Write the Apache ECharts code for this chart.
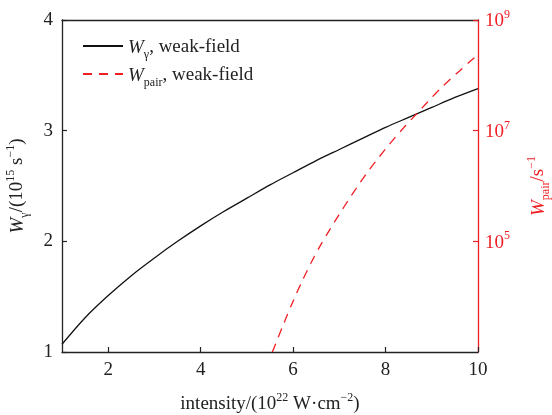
<!DOCTYPE html>
<html>
<head>
<meta charset="utf-8">
<script src="https://cdn.jsdelivr.net/npm/echarts@6/dist/echarts.min.js"></script>
<style>html,body{margin:0;padding:0;background:#fff}#c{width:552px;height:415px}</style>
</head>
<body>
<div id="c"></div>
<script>
// intensity (1e22 W/cm^2) and W_gamma (1e15 s^-1)
var gammaX = [1, 1.5, 2, 2.5, 3, 3.5, 4, 4.5, 5, 5.5, 6, 6.5, 7, 7.5, 8, 8.5, 9, 9.5, 10];
var gammaY = [1.07, 1.31, 1.51, 1.69, 1.85, 2.00, 2.14, 2.27, 2.39, 2.51, 2.62, 2.73, 2.83, 2.93, 3.03, 3.12, 3.21, 3.30, 3.38];
// W_pair (s^-1)
var pairX = [5.55, 5.6, 5.8, 6.0, 6.2, 6.4, 6.6, 6.8, 7.0, 7.2, 7.4, 7.6, 7.8, 8.0, 8.2, 8.4, 8.6, 8.8, 9.0, 9.2, 9.4, 9.6, 9.8, 10];
var pairY = [1.0e3, 1.26e3, 3.31e3, 8.3e3, 1.95e4, 4.27e4, 8.7e4, 1.66e5, 3.09e5, 5.62e5, 1.0e6, 1.74e6, 2.88e6, 4.68e6, 7.41e6, 1.15e7, 1.74e7, 2.63e7, 3.98e7, 5.89e7, 8.51e7, 1.2e8, 1.7e8, 2.34e8];
var xTicks = [2, 4, 6, 8, 10];

var RED = '#f01e23';
var INK = '#222';
var FONT = 'Liberation Serif';

function zip(a, b) { return a.map(function (v, i) { return [v, b[i]]; }); }
function richSet(c) {
  return {
    i: { fontFamily: FONT, fontStyle: 'italic', fontSize: 19, color: c, verticalAlign: 'bottom', lineHeight: 22 },
    s: { fontFamily: FONT, fontSize: 12, color: c, verticalAlign: 'bottom', lineHeight: 22, padding: [0, 0, -4, 0] },
    t: { fontFamily: FONT, fontSize: 19, color: c, verticalAlign: 'bottom', lineHeight: 22 },
    u: { fontFamily: FONT, fontSize: 12, color: c, verticalAlign: 'top', lineHeight: 22, padding: [0, 0, 8, 0] }
  };
}

var chart = echarts.init(document.getElementById('c'));
chart.setOption({
  animation: false,
  textStyle: { fontFamily: FONT },
  grid: { left: 62, right: 74, top: 20, bottom: 63, containLabel: false, outerBoundsMode: 'none' },
  legend: {
    orient: 'vertical', left: 77, top: 33, itemWidth: 40, itemHeight: 12, itemGap: 5,
    data: ['g', 'p'],
    itemStyle: { opacity: 0 },
    formatter: function (n) {
      return n === 'g' ? '{i|W}{s|γ}{t|, weak-field}' : '{i|W}{s|pair}{t|, weak-field}';
    },
    textStyle: { fontFamily: FONT, color: INK, rich: richSet(INK) }
  },
  xAxis: [{
    type: 'value', min: 1, max: 10,
    name: '{t|intensity/(10}{u|22}{t| W·cm}{u|−2}{t|)}',
    nameLocation: 'middle', nameGap: 40,
    nameTextStyle: { rich: richSet(INK) },
    axisLine: { show: true, onZero: false, lineStyle: { color: INK, width: 1.3 } },
    axisTick: { inside: true, length: 5, customValues: xTicks, lineStyle: { color: INK, width: 1.2 } },
    axisLabel: { customValues: xTicks, fontFamily: FONT, fontSize: 19, color: INK, margin: 9 },
    splitLine: { show: false }
  }, {
    type: 'value', min: 1, max: 10, position: 'top',
    axisLine: { show: true, onZero: false, lineStyle: { color: INK, width: 1.3 } },
    axisTick: { show: false }, axisLabel: { show: false }, splitLine: { show: false }
  }],
  yAxis: [{
    type: 'value', min: 1, max: 4, interval: 1,
    name: '{i|W}{s|γ}{t|/(10}{u|15}{t| s}{u|−1}{t|)}',
    nameLocation: 'middle', nameGap: 35, nameRotate: 90,
    nameTextStyle: { rich: richSet(INK) },
    axisLine: { show: true, onZero: false, lineStyle: { color: INK, width: 1.3 } },
    axisTick: { inside: true, length: 5, lineStyle: { color: INK, width: 1.2 } },
    axisLabel: { fontFamily: FONT, fontSize: 19, color: INK, margin: 9 },
    splitLine: { show: false }
  }, {
    type: 'log', logBase: 10, min: 1e3, max: 1e9, interval: 2, position: 'right',
    name: '{i|W}{s|pair}{t|/s}{u|−1}',
    nameLocation: 'middle', nameGap: 48, nameRotate: 90,
    nameTextStyle: { rich: richSet(RED) },
    axisLine: { show: true, onZero: false, lineStyle: { color: RED, width: 1.3 } },
    axisTick: { inside: true, length: 5, lineStyle: { color: RED, width: 1.2 } },
    axisLabel: {
      showMinLabel: false, margin: 7,
      formatter: function (v) { return '{b|10}{e|' + Math.round(Math.log10(v)) + '}'; },
      rich: {
        b: { fontFamily: FONT, fontSize: 19, color: RED, verticalAlign: 'bottom', lineHeight: 22 },
        e: { fontFamily: FONT, fontSize: 12, color: RED, verticalAlign: 'top', lineHeight: 22, padding: [0, 0, 8, 0] }
      }
    },
    splitLine: { show: false }
  }],
  series: [{
    name: 'g', type: 'line', xAxisIndex: 0, yAxisIndex: 0, smooth: 0.3, symbol: 'none',
    data: zip(gammaX, gammaY), lineStyle: { color: '#111', width: 1.3 }, itemStyle: { color: '#111' }
  }, {
    name: 'p', type: 'line', xAxisIndex: 0, yAxisIndex: 1, smooth: 0.3, symbol: 'none',
    data: zip(pairX, pairY), lineStyle: { color: RED, width: 1.3, type: [9, 7] }, itemStyle: { color: RED }
  }]
});
</script>
</body>
</html>
